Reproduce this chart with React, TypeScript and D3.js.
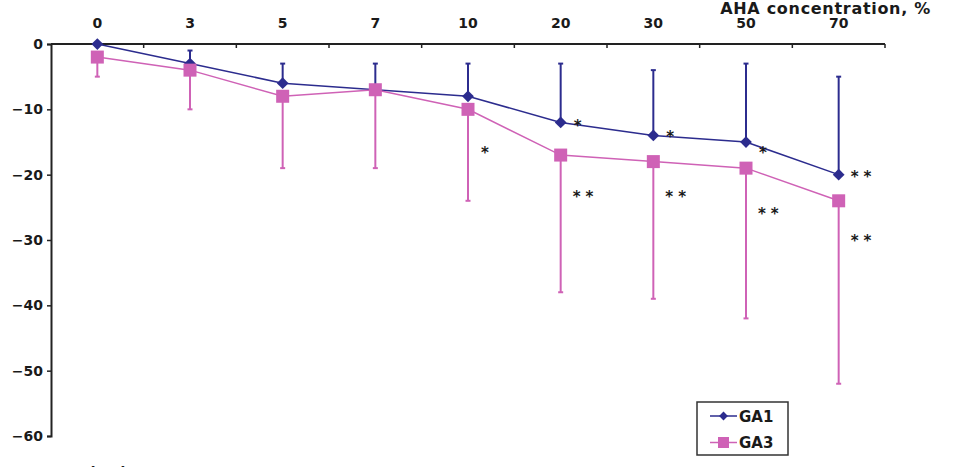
import React, { useEffect, useRef } from "react";
import * as d3 from "d3";

// AHA concentration categories (%)
const concentrations = ["0", "3", "5", "7", "10", "20", "30", "50", "70"];

// GA1 series: mean and upper error bar end
const ga1Values = [0, -3, -6, -7, -8, -12, -14, -15, -20];
const ga1ErrTop = [0, -1, -3, -3, -3, -3, -4, -3, -5];

// GA3 series: mean and lower error bar end
const ga3Values = [-2, -4, -8, -7, -10, -17, -18, -19, -24];
const ga3ErrBottom = [-5, -10, -19, -19, -24, -38, -39, -42, -52];

// significance marks and the value level they sit at
const ga1Sig = ["", "", "", "", "", "*", "*", "*", "**"];
const ga1SigAt = [0, 0, 0, 0, 0, -12, -13.6, -16, -19.8];
const ga3Sig = ["", "", "", "", "*", "**", "**", "**", "**"];
const ga3SigAt = [0, 0, 0, 0, -16, -22.8, -22.8, -25.4, -29.5];

const yTicks = [0, -10, -20, -30, -40, -50, -60];

const GA1_COLOR = "#2c2c8e";
const GA3_COLOR = "#cf62b6";
const TEXT_COLOR = "#1a1a1a";
const FONT = "'DejaVu Sans', Verdana, sans-serif";

function App() {
  const svgRef = useRef<SVGSVGElement>(null);

  useEffect(() => {
    if (!svgRef.current) return;
    const svg = d3.select(svgRef.current);
    svg.selectAll("*").remove();

    const left = 51;
    const right = 885;
    const top = 44;
    const bottom = 436;

    const x = d3.scaleBand<string>().domain(concentrations).range([left, right]).padding(0);
    const y = d3.scaleLinear().domain([-60, 0]).range([bottom, top]);
    const cx = (i: number) => x(concentrations[i])! + x.bandwidth() / 2;

    const g = svg.append("g").style("font-family", FONT).style("font-weight", "bold");

    // y axis
    const yAxis = d3
      .axisLeft(y)
      .tickValues(yTicks)
      .tickSize(4)
      .tickPadding(4)
      .tickFormat((d) => (d === 0 ? "0" : "\u2212" + Math.abs(d as number)));
    const yg = g.append("g").attr("transform", `translate(${left},0)`).call(yAxis);
    yg.select(".domain").attr("stroke", "#222").attr("stroke-width", 2);
    yg.selectAll(".tick line").attr("stroke", "#222").attr("stroke-width", 1.5);
    yg.selectAll(".tick text")
      .attr("fill", TEXT_COLOR)
      .style("font-size", "14px")
      .style("font-family", FONT)
      .style("font-weight", "bold");

    // top x axis: line, boundary ticks, centered labels
    g.append("line")
      .attr("x1", left)
      .attr("x2", right)
      .attr("y1", top)
      .attr("y2", top)
      .attr("stroke", "#222")
      .attr("stroke-width", 2);
    const bounds = d3.range(1, concentrations.length + 1).map((i) => left + i * x.step());
    g.selectAll(".xtick")
      .data(bounds)
      .enter()
      .append("line")
      .attr("x1", (d) => d)
      .attr("x2", (d) => d)
      .attr("y1", top)
      .attr("y2", top + 4)
      .attr("stroke", "#222")
      .attr("stroke-width", 1.5);
    g.selectAll(".xlabel")
      .data(concentrations)
      .enter()
      .append("text")
      .attr("x", (_, i) => cx(i))
      .attr("y", top - 16)
      .attr("text-anchor", "middle")
      .attr("fill", TEXT_COLOR)
      .style("font-size", "14px")
      .text((d) => d);

    g.append("text")
      .attr("x", 931)
      .attr("y", 14)
      .attr("text-anchor", "end")
      .attr("fill", TEXT_COLOR)
      .style("font-size", "16px")
      .style("letter-spacing", "0.7px")
      .text("AHA concentration, %");

    // y axis title, mostly below the visible area
    g.append("text")
      .attr("x", 33)
      .attr("y", 477)
      .attr("fill", TEXT_COLOR)
      .style("font-size", "14px")
      .text("CFU reduction");

    const line = d3
      .line<number>()
      .x((_, i) => cx(i))
      .y((d) => y(d));

    // GA1 series
    g.append("path")
      .datum(ga1Values)
      .attr("d", line)
      .attr("fill", "none")
      .attr("stroke", GA1_COLOR)
      .attr("stroke-width", 1.5);
    ga1Values.forEach((v, i) => {
      if (ga1ErrTop[i] === v) return;
      g.append("line")
        .attr("x1", cx(i))
        .attr("x2", cx(i))
        .attr("y1", y(v))
        .attr("y2", y(ga1ErrTop[i]))
        .attr("stroke", GA1_COLOR)
        .attr("stroke-width", 2);
      g.append("line")
        .attr("x1", cx(i) - 2.5)
        .attr("x2", cx(i) + 2.5)
        .attr("y1", y(ga1ErrTop[i]))
        .attr("y2", y(ga1ErrTop[i]))
        .attr("stroke", GA1_COLOR)
        .attr("stroke-width", 2);
    });
    const diamond = d3.symbol().type(d3.symbolDiamond2).size(88);
    g.selectAll(".ga1pt")
      .data(ga1Values)
      .enter()
      .append("path")
      .attr("d", diamond)
      .attr("transform", (d, i) => `translate(${cx(i)},${y(d)})`)
      .attr("fill", GA1_COLOR);

    // GA3 series
    g.append("path")
      .datum(ga3Values)
      .attr("d", line)
      .attr("fill", "none")
      .attr("stroke", GA3_COLOR)
      .attr("stroke-width", 1.5);
    ga3Values.forEach((v, i) => {
      g.append("line")
        .attr("x1", cx(i))
        .attr("x2", cx(i))
        .attr("y1", y(v))
        .attr("y2", y(ga3ErrBottom[i]))
        .attr("stroke", GA3_COLOR)
        .attr("stroke-width", 2);
      g.append("line")
        .attr("x1", cx(i) - 2.5)
        .attr("x2", cx(i) + 2.5)
        .attr("y1", y(ga3ErrBottom[i]))
        .attr("y2", y(ga3ErrBottom[i]))
        .attr("stroke", GA3_COLOR)
        .attr("stroke-width", 2);
    });
    g.selectAll(".ga3pt")
      .data(ga3Values)
      .enter()
      .append("rect")
      .attr("x", (_, i) => cx(i) - 6.5)
      .attr("y", (d) => y(d) - 6.5)
      .attr("width", 13)
      .attr("height", 13)
      .attr("fill", GA3_COLOR);

    // significance asterisks
    const sig = (labels: string[], at: number[]) => {
      labels.forEach((s, i) => {
        if (!s) return;
        g.append("text")
          .attr("x", cx(i) + (s.length > 1 ? 12 : 13))
          .attr("y", y(at[i]) + 9)
          .attr("fill", TEXT_COLOR)
          .style("font-size", "15px")
          .style("letter-spacing", "5px")
          .text(s);
      });
    };
    sig(ga1Sig, ga1SigAt);
    sig(ga3Sig, ga3SigAt);

    // legend
    const lg = g.append("g").attr("transform", "translate(697,402)");
    lg.append("rect")
      .attr("width", 91)
      .attr("height", 53)
      .attr("fill", "#fff")
      .attr("stroke", "#333")
      .attr("stroke-width", 1.5);
    const items = [
      { name: "GA1", color: GA1_COLOR, shape: "diamond" },
      { name: "GA3", color: GA3_COLOR, shape: "square" },
    ];
    items.forEach((it, i) => {
      const yy = 14 + i * 26.5;
      lg.append("line")
        .attr("x1", 13)
        .attr("x2", 40)
        .attr("y1", yy)
        .attr("y2", yy)
        .attr("stroke", it.color)
        .attr("stroke-width", 1.5);
      if (it.shape === "diamond") {
        lg.append("path")
          .attr("d", d3.symbol().type(d3.symbolDiamond2).size(50)())
          .attr("transform", `translate(26.5,${yy})`)
          .attr("fill", it.color);
      } else {
        lg.append("rect")
          .attr("x", 21)
          .attr("y", yy - 5.5)
          .attr("width", 11)
          .attr("height", 11)
          .attr("fill", it.color);
      }
      lg.append("text")
        .attr("x", 42)
        .attr("y", yy + 5.5)
        .attr("fill", TEXT_COLOR)
        .style("font-size", "15px")
        .text(it.name);
    });
  }, []);

  return (
    <div style={{ position: "absolute", left: 0, top: 0, width: 968, height: 467, background: "#fff" }}>
      <svg ref={svgRef} width={968} height={467} />
    </div>
  );
}

export default App;
